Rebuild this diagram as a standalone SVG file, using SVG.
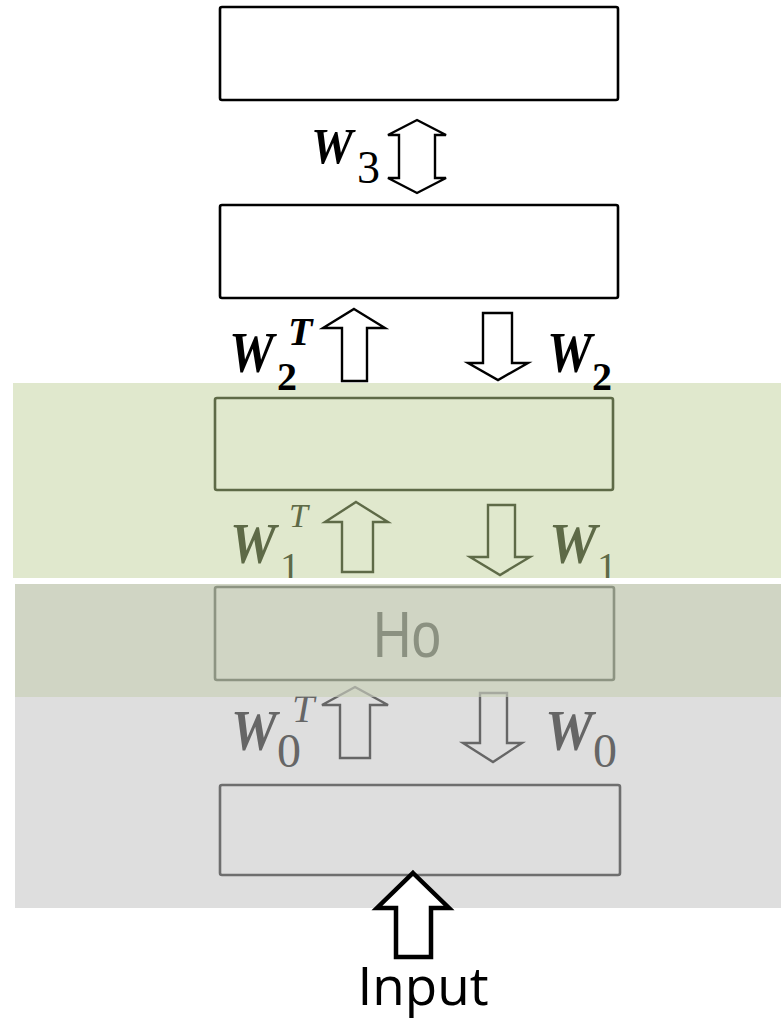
<svg xmlns="http://www.w3.org/2000/svg" width="781" height="1020" viewBox="0 0 781 1020">
<style>
.box{stroke-width:2.6;stroke-linejoin:round}
.arr{stroke-width:2.4;stroke-linejoin:miter}
.w{font-family:"Liberation Serif","Times New Roman",serif;font-weight:bold;font-style:italic}
.sub{font-family:"Liberation Serif","Times New Roman",serif}
.k{fill:#000}
.g{fill:#5e6a47}
.d{fill:#666666}
</style>
<rect x="0" y="0" width="781" height="1020" fill="#ffffff"/>
<g id="bands">
<rect x="13" y="383" width="768" height="195" fill="#e0e8cd"/>
<rect x="15" y="584" width="766" height="113" fill="#d0d5c4"/>
<rect x="15" y="697" width="766" height="211" fill="#dedede"/>
</g>
<g id="node-top">
<rect class="box" x="220" y="7" width="398" height="93" rx="2" fill="#ffffff" stroke="#000"/>
</g>
<g id="node-h2">
<rect class="box" x="220" y="205" width="398" height="93" rx="2" fill="#ffffff" stroke="#000"/>
</g>
<g id="node-h1">
<rect class="box" x="215" y="398" width="398" height="92" rx="2" fill="none" stroke="#5e6a47"/>
</g>
<g id="node-h0">
<rect class="box" x="215" y="587" width="399" height="93" rx="2" fill="none" stroke="#8d9482"/>
<text x="407" y="657" font-family="Liberation Sans, Arial, sans-serif" font-size="65" fill="#8b9181" text-anchor="middle" transform="translate(407 0) scale(0.82 1) translate(-407 0)">Ho</text>
</g>
<g id="node-input">
<rect class="box" x="220" y="785" width="400" height="90" rx="2" fill="none" stroke="#6e6e6e"/>
</g>
<g id="connectors">
<path class="arr" d="M417,120 L446,135 L435,135 L435,178 L446,178 L417,193 L388,178 L399,178 L399,135 L388,135 Z" fill="#ffffff" stroke="#000"/>
<path class="arr" d="M354,309 L385,328 L367,328 L367,381 L342,381 L342,328 L323,328 Z" fill="#ffffff" stroke="#000"/>
<path class="arr" d="M483,313 L512,313 L512,363 L528,363 L498,380 L468,363 L483,363 Z" fill="#ffffff" stroke="#000"/>
<path class="arr" d="M356,502 L388,522 L373,522 L373,572 L342,572 L342,522 L325,522 Z" fill="none" stroke="#5e6a47"/>
<path class="arr" d="M488,505 L515,505 L515,557 L530,557 L500,575 L470,557 L488,557 Z" fill="none" stroke="#5e6a47"/>
<path class="arr" d="M355,687 L388,705 L370,705 L370,758 L340,758 L340,705 L322,705 Z" fill="none" stroke="#666666"/>
<path class="arr" d="M480,693 L507,693 L507,743 L522,743 L493,762 L463,743 L480,743 Z" fill="none" stroke="#666666"/>
<path d="M413,873 L449,908 L431,908 L431,957 L396,957 L396,908 L377,908 Z" fill="#ffffff" stroke="#000" stroke-width="4.5" stroke-linejoin="miter"/>
</g>
<g id="labels">
<text class="w k" x="311" y="163" font-size="50" textLength="42" lengthAdjust="spacingAndGlyphs">W</text>
<text class="sub k" x="357" y="183" font-size="46">3</text>
<text class="w k" x="229" y="372" font-size="58" textLength="45" lengthAdjust="spacingAndGlyphs">W</text>
<text class="w k" x="288" y="345" font-size="40">T</text>
<text class="sub k" x="277" y="390" font-size="40" font-weight="bold">2</text>
<text class="w k" x="547" y="372" font-size="58" textLength="45" lengthAdjust="spacingAndGlyphs">W</text>
<text class="sub k" x="592" y="390" font-size="40" font-weight="bold">2</text>
<text class="w g" x="230" y="563" font-size="56" textLength="46" lengthAdjust="spacingAndGlyphs">W</text>
<text class="sub g" x="289" y="527" font-size="34" font-style="italic">T</text>
<text class="sub g" x="280" y="580" font-size="40">1</text>
<text class="w g" x="549" y="563" font-size="56" textLength="48" lengthAdjust="spacingAndGlyphs">W</text>
<text class="sub g" x="597" y="580" font-size="40">1</text>
<text class="w d" x="231" y="750" font-size="58" textLength="46" lengthAdjust="spacingAndGlyphs">W</text>
<text class="sub d" x="277" y="767" font-size="48">0</text>
<text class="sub d" x="292" y="722" font-size="40" font-style="italic">T</text>
<text class="w d" x="545" y="750" font-size="58" textLength="48" lengthAdjust="spacingAndGlyphs">W</text>
<text class="sub d" x="593" y="767" font-size="48">0</text>
<text x="423" y="1005" font-family="Open Sans, Liberation Sans, sans-serif" font-size="53" fill="#000" text-anchor="middle">Input</text>
</g>
<rect x="13" y="578" width="768" height="6" fill="#ffffff"/>
<rect x="220" y="682" width="330" height="15" fill="#d0d5c4" opacity="0.6"/>
</svg>
